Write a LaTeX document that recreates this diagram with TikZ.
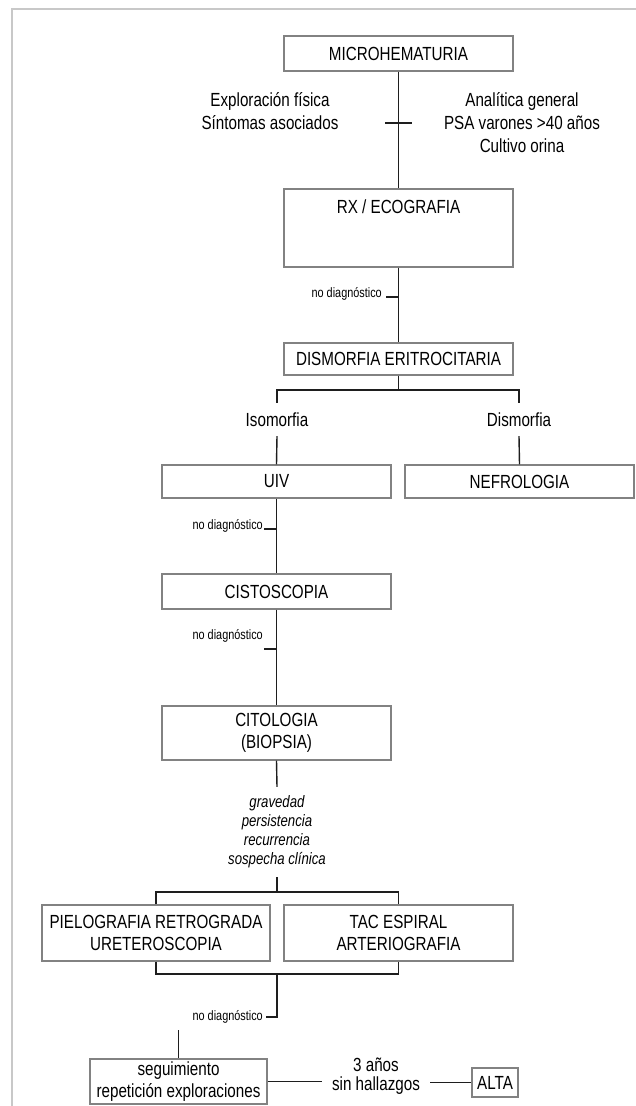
\documentclass[tikz,border=0pt]{standalone}
\usepackage{fontspec}
\setmainfont{Liberation Sans}[FakeStretch=0.8]
\usetikzlibrary{calc}
\definecolor{framegray}{RGB}{200,200,200}
\definecolor{boxgray}{RGB}{130,130,130}
\definecolor{linedark}{RGB}{30,30,30}

\begin{document}
\begin{tikzpicture}[x=1pt,y=-1pt,
  box/.style={draw=boxgray, line width=1.4pt, minimum width=229pt, inner sep=0pt,
    align=center, font=\fontsize{19}{22}\selectfont},
  conn/.style={draw=linedark, line width=1.4pt},
  note/.style={inner sep=0pt, align=center, font=\fontsize{19}{23}\selectfont},
  smallnote/.style={inner sep=0pt, font=\fontsize{13.6}{15}\selectfont},
  critlist/.style={inner sep=0pt, align=center, font=\itshape\fontsize{16.5}{19}\selectfont}]

\useasboundingbox (0,0) rectangle (636,1106);
\draw[framegray, line width=1.5pt] (636,9) -- (12,9) -- (12,1106);

% boxes
\node[box, minimum height=35pt] (micro) at (398.5,53.5) {MICROHEMATURIA};
\node[box, minimum height=78pt,
  label={[anchor=center, yshift=-18pt, font=\fontsize{19}{22}\selectfont]north:RX / ECOGRAFIA}]
  (rx) at (398.5,228) {};
\node[box, minimum height=32pt] (dism) at (398.5,359) {DISMORFIA ERITROCITARIA};
\node[box, minimum height=33pt] (uiv) at (276.5,481.5) {UIV};
\node[box, minimum height=33pt] (nefro) at (519.5,481.5) {NEFROLOGIA};
\node[box, minimum height=35pt] (cisto) at (276.5,591.5) {CISTOSCOPIA};
\node[box, minimum height=54pt] (cito) at (276.5,733) {CITOLOGIA\\(BIOPSIA)};
\node[box, minimum width=228pt, minimum height=56pt] (pielo) at (156,933)
  {PIELOGRAFIA RETROGRADA\\URETEROSCOPIA};
\node[box, minimum height=56pt] (tac) at (398.5,933) {TAC ESPIRAL\\ARTERIOGRAFIA};
\node[box, minimum width=177pt, minimum height=45pt] (seg) at (178.5,1081.5)
  {seguimiento\\repetición exploraciones};
\node[box, minimum width=46pt, minimum height=29pt] (alta) at (495,1082.5) {ALTA};

% side notes
\node[note] (expl) at (270,111.5) {Exploración física\\Síntomas asociados};
\node[note] (anal) at (522,123) {Analítica general\\PSA varones >40 años\\Cultivo orina};
\node[note, minimum height=33pt] (iso) at (277,419.5) {Isomorfia};
\node[note, minimum height=33pt] (dis) at (519,419.5) {Dismorfia};
\node[critlist, minimum height=90pt] (crit) at (277,832)
  {gravedad\\persistencia\\recurrencia\\sospecha clínica};
\node[note, minimum width=108pt, font=\fontsize{19}{19}\selectfont] (yrs) at (376,1076.5)
  {3 años\\sin hallazgos};

\node[smallnote, anchor=east] (nd1) at (382,294) {no diagnóstico};
\node[smallnote, anchor=east] (nd2) at (263,526) {no diagnóstico};
\node[smallnote, anchor=east] (nd3) at (263,636) {no diagnóstico};
\node[smallnote, anchor=east] (nd4) at (263,1017) {no diagnóstico};

% connectors
\draw[conn] (micro.south) -- (rx.north);
\coordinate (t1) at (398.5,123);
\draw[conn] ([xshift=-13.5pt]t1) -- ([xshift=13.5pt]t1);

\draw[conn] (rx.south) -- (dism.north);
\coordinate (t2) at (398.5,297);
\draw[conn] (t2) -- ++(-13,0);

\coordinate (split) at (398.5,390);
\draw[conn] (dism.south) -- (split);
\draw[conn] (iso.north) |- (split) -| (dis.north);
\draw[conn] (iso.south) -- (uiv.north);
\draw[conn] (dis.south) -- (nefro.north);

\draw[conn] (uiv.south) -- (cisto.north);
\coordinate (t3) at (276.5,529);
\draw[conn] (t3) -- ++(-12.5,0);

\draw[conn] (cisto.south) -- (cito.north);
\coordinate (t4) at (276.5,649);
\draw[conn] (t4) -- ++(-12.5,0);

\draw[conn] (cito.south) -- (crit.north);
\coordinate (fork) at (277,892);
\draw[conn] (crit.south) -- (fork);
\draw[conn] (pielo.north) |- (fork) -| (tac.north);

\coordinate (join) at (277,974);
\draw[conn] (pielo.south) |- (join) -| (tac.south);
\coordinate (t5) at (277,1017);
\draw[conn] (join) -- (t5) -- ++(-11,0);

\coordinate (segtop) at (178.5,1030);
\draw[conn] (segtop) -- (seg.north);
\draw[conn] (seg.east) -- (seg.east -| yrs.west);
\draw[conn] (alta.west -| yrs.east) -- (alta.west);
\end{tikzpicture}
\end{document}
